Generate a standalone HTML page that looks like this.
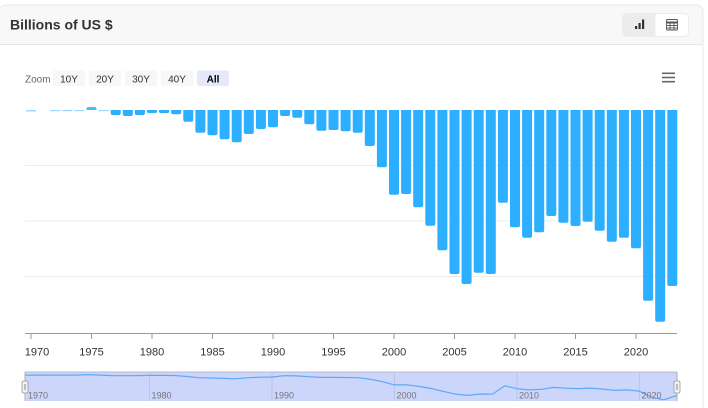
<!DOCTYPE html>
<html>
<head>
<meta charset="utf-8">
<style>
html,body{margin:0;padding:0;background:#fff;width:708px;height:408px;overflow:hidden;}
svg{display:block;font-family:"Liberation Sans",sans-serif;}
</style>
</head>
<body>
<svg width="708" height="408" viewBox="0 0 708 408" xmlns="http://www.w3.org/2000/svg">
<path d="M-1,420 V13 Q-1,5 7,5 H695 Q703,5 703,13 V420" fill="#fff" stroke="#e8e8e8" stroke-width="1"/>
<path d="M-0.5,44 V13 Q-0.5,5.5 7,5.5 H695 Q702.5,5.5 702.5,13 V44 Z" fill="#f8f8f8"/>
<line x1="-1" y1="44.5" x2="703" y2="44.5" stroke="#e6e6e6"/>
<text x="10" y="29.5" font-size="14" font-weight="bold" fill="#333">Billions of US $</text>
<rect x="622.5" y="13.5" width="66" height="23" rx="4" fill="#fff" stroke="#ececec"/>
<path d="M626.5,13.5 H655.5 V36.5 H626.5 Q622.5,36.5 622.5,32.5 V17.5 Q622.5,13.5 626.5,13.5 Z" fill="#ececec"/>
<rect x="635" y="26" width="2.2" height="3" fill="#333"/>
<rect x="638.5" y="23" width="2.2" height="6" fill="#333"/>
<rect x="642" y="19.5" width="2.2" height="9.5" fill="#333"/>
<g stroke="#555" stroke-width="0.9" fill="none">
<rect x="666.5" y="19.5" width="11" height="10.5" rx="1"/>
<line x1="666.5" y1="22.5" x2="677.5" y2="22.5" stroke-width="2"/>
<line x1="666.5" y1="25.5" x2="677.5" y2="25.5"/>
<line x1="666.5" y1="28" x2="677.5" y2="28"/>
<line x1="670" y1="22" x2="670" y2="30"/>
<line x1="674" y1="22" x2="674" y2="30"/>
</g>
<text x="25" y="82.5" font-size="10" fill="#666">Zoom</text>
<rect x="53" y="70.5" width="32" height="15.5" rx="2" fill="#f7f7f7"/>
<rect x="89" y="70.5" width="32" height="15.5" rx="2" fill="#f7f7f7"/>
<rect x="125" y="70.5" width="32" height="15.5" rx="2" fill="#f7f7f7"/>
<rect x="161" y="70.5" width="32" height="15.5" rx="2" fill="#f7f7f7"/>
<rect x="197" y="70.5" width="32" height="15.5" rx="2" fill="#e6e9fc"/>
<g font-size="10" fill="#333" text-anchor="middle">
<text x="69" y="82.5">10Y</text>
<text x="105" y="82.5">20Y</text>
<text x="141" y="82.5">30Y</text>
<text x="177" y="82.5">40Y</text>
<text x="213" y="82.5" font-weight="bold" fill="#000">All</text>
</g>
<g stroke="#666" stroke-width="1.6">
<line x1="662" y1="73.3" x2="675" y2="73.3"/>
<line x1="662" y1="77.5" x2="675" y2="77.5"/>
<line x1="662" y1="81.7" x2="675" y2="81.7"/>
</g>
<g stroke="#ececec" stroke-width="1">
<line x1="25" y1="165.5" x2="677" y2="165.5"/>
<line x1="25" y1="221" x2="677" y2="221"/>
<line x1="25" y1="276.5" x2="677" y2="276.5"/>
</g>
<g fill="#9ad8ff">
<rect x="26" y="110" width="10" height="1.5"/>
<rect x="50.2" y="110" width="10" height="1.2"/>
<rect x="62.3" y="110" width="10" height="1.2"/>
<rect x="74.4" y="110" width="10" height="1.2"/>
<rect x="98.6" y="110" width="10" height="1.2"/>
</g>
<path d="M86.5,110 V109 Q86.5,107 88.5,107 H94.5 Q96.5,107 96.5,109 V110 Z" fill="#2caffe" opacity="0.85"/>
<g fill="#2caffe">
<path d="M110.7,110 h10 v3 q0,2 -2,2 h-6 q-2,0 -2,-2 z"/>
<path d="M122.8,110 h10 v4 q0,2 -2,2 h-6 q-2,0 -2,-2 z"/>
<path d="M134.9,110 h10 v3 q0,2 -2,2 h-6 q-2,0 -2,-2 z"/>
<path d="M147,110 h10 v1.5 q0,1.5 -1.5,1.5 h-7 q-1.5,0 -1.5,-1.5 z"/>
<path d="M159.1,110 h10 v1.5 q0,1.5 -1.5,1.5 h-7 q-1.5,0 -1.5,-1.5 z"/>
<path d="M171.2,110 h10 v2.3 q0,2 -2,2 h-6 q-2,0 -2,-2 z"/>
<path d="M183.3,110 h10 v9.7 q0,2 -2,2 h-6 q-2,0 -2,-2 z"/>
<path d="M195.4,110 h10 v20.7 q0,2 -2,2 h-6 q-2,0 -2,-2 z"/>
<path d="M207.5,110 h10 v23.3 q0,2 -2,2 h-6 q-2,0 -2,-2 z"/>
<path d="M219.6,110 h10 v27.3 q0,2 -2,2 h-6 q-2,0 -2,-2 z"/>
<path d="M231.7,110 h10 v30.3 q0,2 -2,2 h-6 q-2,0 -2,-2 z"/>
<path d="M243.8,110 h10 v22 q0,2 -2,2 h-6 q-2,0 -2,-2 z"/>
<path d="M255.9,110 h10 v17 q0,2 -2,2 h-6 q-2,0 -2,-2 z"/>
<path d="M268,110 h10 v15.3 q0,2 -2,2 h-6 q-2,0 -2,-2 z"/>
<path d="M280.1,110 h10 v4 q0,2 -2,2 h-6 q-2,0 -2,-2 z"/>
<path d="M292.2,110 h10 v5.7 q0,2 -2,2 h-6 q-2,0 -2,-2 z"/>
<path d="M304.3,110 h10 v12.3 q0,2 -2,2 h-6 q-2,0 -2,-2 z"/>
<path d="M316.4,110 h10 v18.7 q0,2 -2,2 h-6 q-2,0 -2,-2 z"/>
<path d="M328.5,110 h10 v18 q0,2 -2,2 h-6 q-2,0 -2,-2 z"/>
<path d="M340.6,110 h10 v19.3 q0,2 -2,2 h-6 q-2,0 -2,-2 z"/>
<path d="M352.7,110 h10 v20.7 q0,2 -2,2 h-6 q-2,0 -2,-2 z"/>
<path d="M364.8,110 h10 v34 q0,2 -2,2 h-6 q-2,0 -2,-2 z"/>
<path d="M376.9,110 h10 v55.3 q0,2 -2,2 h-6 q-2,0 -2,-2 z"/>
<path d="M389,110 h10 v82.7 q0,2 -2,2 h-6 q-2,0 -2,-2 z"/>
<path d="M401.1,110 h10 v82 q0,2 -2,2 h-6 q-2,0 -2,-2 z"/>
<path d="M413.2,110 h10 v95.3 q0,2 -2,2 h-6 q-2,0 -2,-2 z"/>
<path d="M425.3,110 h10 v113.7 q0,2 -2,2 h-6 q-2,0 -2,-2 z"/>
<path d="M437.4,110 h10 v138.3 q0,2 -2,2 h-6 q-2,0 -2,-2 z"/>
<path d="M449.5,110 h10 v162 q0,2 -2,2 h-6 q-2,0 -2,-2 z"/>
<path d="M461.6,110 h10 v172 q0,2 -2,2 h-6 q-2,0 -2,-2 z"/>
<path d="M473.7,110 h10 v160.7 q0,2 -2,2 h-6 q-2,0 -2,-2 z"/>
<path d="M485.8,110 h10 v162 q0,2 -2,2 h-6 q-2,0 -2,-2 z"/>
<path d="M497.9,110 h10 v90.7 q0,2 -2,2 h-6 q-2,0 -2,-2 z"/>
<path d="M510,110 h10 v115.3 q0,2 -2,2 h-6 q-2,0 -2,-2 z"/>
<path d="M522.1,110 h10 v125.7 q0,2 -2,2 h-6 q-2,0 -2,-2 z"/>
<path d="M534.2,110 h10 v120.3 q0,2 -2,2 h-6 q-2,0 -2,-2 z"/>
<path d="M546.3,110 h10 v104 q0,2 -2,2 h-6 q-2,0 -2,-2 z"/>
<path d="M558.4,110 h10 v110.7 q0,2 -2,2 h-6 q-2,0 -2,-2 z"/>
<path d="M570.5,110 h10 v114 q0,2 -2,2 h-6 q-2,0 -2,-2 z"/>
<path d="M582.6,110 h10 v109.7 q0,2 -2,2 h-6 q-2,0 -2,-2 z"/>
<path d="M594.7,110 h10 v118.7 q0,2 -2,2 h-6 q-2,0 -2,-2 z"/>
<path d="M606.8,110 h10 v129.7 q0,2 -2,2 h-6 q-2,0 -2,-2 z"/>
<path d="M618.9,110 h10 v125.7 q0,2 -2,2 h-6 q-2,0 -2,-2 z"/>
<path d="M631,110 h10 v136.3 q0,2 -2,2 h-6 q-2,0 -2,-2 z"/>
<path d="M643.1,110 h10 v188.7 q0,2 -2,2 h-6 q-2,0 -2,-2 z"/>
<path d="M655.2,110 h10 v209.7 q0,2 -2,2 h-6 q-2,0 -2,-2 z"/>
<path d="M667.3,110 h10 v174 q0,2 -2,2 h-6 q-2,0 -2,-2 z"/>
</g>
<line x1="25" y1="333.5" x2="677" y2="333.5" stroke="#9a9a9a" stroke-width="1"/>
<g stroke="#9a9a9a" stroke-width="1">
<line x1="31" y1="333" x2="31" y2="339"/>
<line x1="91.5" y1="333" x2="91.5" y2="339"/>
<line x1="152" y1="333" x2="152" y2="339"/>
<line x1="212.5" y1="333" x2="212.5" y2="339"/>
<line x1="273" y1="333" x2="273" y2="339"/>
<line x1="333.5" y1="333" x2="333.5" y2="339"/>
<line x1="394" y1="333" x2="394" y2="339"/>
<line x1="454.5" y1="333" x2="454.5" y2="339"/>
<line x1="515" y1="333" x2="515" y2="339"/>
<line x1="575.5" y1="333" x2="575.5" y2="339"/>
<line x1="636" y1="333" x2="636" y2="339"/>
</g>
<g font-size="11" fill="#333" text-anchor="middle">
<text x="37" y="355.5">1970</text>
<text x="91.5" y="355.5">1975</text>
<text x="152" y="355.5">1980</text>
<text x="212.5" y="355.5">1985</text>
<text x="273" y="355.5">1990</text>
<text x="333.5" y="355.5">1995</text>
<text x="394" y="355.5">2000</text>
<text x="454.5" y="355.5">2005</text>
<text x="515" y="355.5">2010</text>
<text x="575.5" y="355.5">2015</text>
<text x="636" y="355.5">2020</text>
</g>
<rect x="25" y="372" width="652" height="29" fill="#ccd5fa"/>
<line x1="25" y1="372" x2="677" y2="372" stroke="#b8bcc8" stroke-width="1"/>
<g stroke="#bcc4ec" stroke-width="1">
<line x1="149.5" y1="372" x2="149.5" y2="401"/>
<line x1="272" y1="372" x2="272" y2="401"/>
<line x1="394.5" y1="372" x2="394.5" y2="401"/>
<line x1="517" y1="372" x2="517" y2="401"/>
<line x1="639.5" y1="372" x2="639.5" y2="401"/>
</g>
<polyline fill="none" stroke="#5ea9f6" stroke-width="1.2" points="25,375.2 27,375.2 39.25,375 51.5,375.1 63.75,375.1 76,375.1 88.25,374.6 100.5,375.1 112.75,375.6 125,375.7 137.25,375.6 149.5,375.4 161.75,375.4 174,375.5 186.25,376.4 198.5,377.7 210.75,378 223,378.4 235.25,378.8 247.5,377.8 259.75,377.2 272,377 284.25,375.7 296.5,375.9 308.75,376.7 321,377.4 333.25,377.3 345.5,377.5 357.75,377.7 370,379.2 382.25,381.7 394.5,384.9 406.75,384.8 419,386.4 431.25,388.5 443.5,391.4 455.75,394.2 468,395.4 480.25,394 492.5,394.2 504.75,385.8 517,388.7 529.25,389.9 541.5,389.3 553.75,387.4 566,388.2 578.25,388.6 590.5,388.1 602.75,389.1 615,390.4 627.25,389.9 639.5,391.2 651.75,397.3 664,399.8 676.25,395.6 677,395"/>
<g font-size="9" fill="#777">
<text x="28" y="398.5">1970</text>
<text x="151.5" y="398.5">1980</text>
<text x="274" y="398.5">1990</text>
<text x="396.5" y="398.5">2000</text>
<text x="519" y="398.5">2010</text>
<text x="641.5" y="398.5">2020</text>
</g>
<line x1="25" y1="372" x2="25" y2="401" stroke="#b0b0b0"/>
<line x1="677" y1="372" x2="677" y2="401" stroke="#b0b0b0"/>
<rect x="22" y="381" width="6" height="12" rx="1.5" fill="#f2f2f2" stroke="#999" stroke-width="0.8"/>
<line x1="24.5" y1="384" x2="24.5" y2="390" stroke="#999" stroke-width="0.6"/>
<line x1="25.5" y1="384" x2="25.5" y2="390" stroke="#999" stroke-width="0.6"/>
<rect x="674" y="381" width="6" height="12" rx="1.5" fill="#f2f2f2" stroke="#999" stroke-width="0.8"/>
<line x1="676.5" y1="384" x2="676.5" y2="390" stroke="#999" stroke-width="0.6"/>
<line x1="677.5" y1="384" x2="677.5" y2="390" stroke="#999" stroke-width="0.6"/>
</svg>
</body>
</html>
